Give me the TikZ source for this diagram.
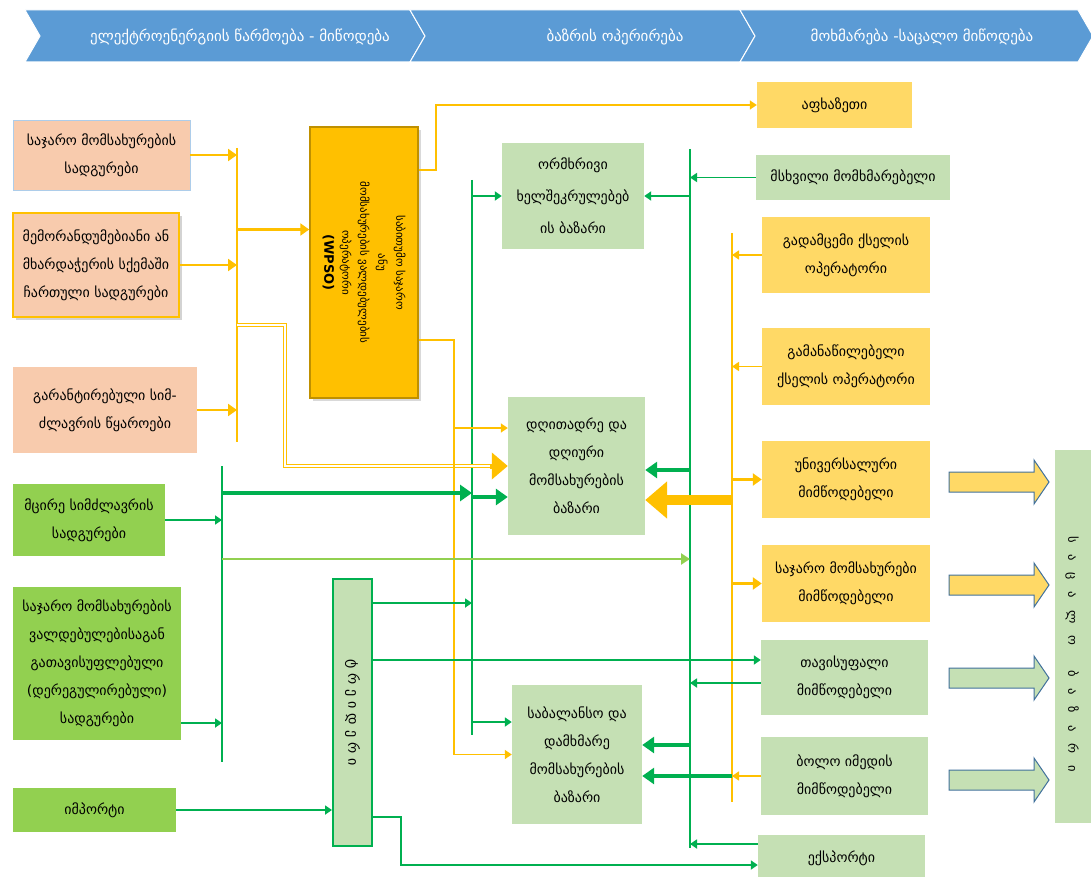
\documentclass[tikz,border=0pt]{standalone}
\usepackage{fontspec}
\setmainfont{DejaVu Sans}
\usetikzlibrary{arrows.meta,shadows}
\definecolor{hdrblue}{HTML}{5B9BD5}
\definecolor{salmonbg}{HTML}{F8CBAD}
\definecolor{limebg}{HTML}{92D050}
\definecolor{mintbg}{HTML}{C5E0B4}
\definecolor{goldbg}{HTML}{FFD966}
\definecolor{wpsobg}{HTML}{FFC000}
\definecolor{wpsoedge}{HTML}{BF9000}
\definecolor{busyellow}{HTML}{FFC000}
\definecolor{busgreen}{HTML}{00B050}
\definecolor{arrowedge}{HTML}{41719C}
\begin{document}
\begin{tikzpicture}[x=1pt,y=-1pt]
\tikzstyle{box} = [align=center, inner sep=2, font=\fontsize{14}{28}\selectfont]
\tikzstyle{salmon} = [box, fill=salmonbg]
\tikzstyle{lime} = [box, fill=limebg]
\tikzstyle{mint} = [box, fill=mintbg]
\tikzstyle{gold} = [box, fill=goldbg]
\tikzstyle{hdr} = [text=white, font=\fontsize{15}{17}\selectfont]
\tikzstyle{ybus} = [draw=busyellow, line width=2.5pt]
\tikzstyle{gbus} = [draw=busgreen, line width=2.5pt]
\tikzstyle{yarr} = [draw=busyellow, line width=2.5pt, -{Triangle[length=9pt,width=12pt]}]
\tikzstyle{ythin} = [draw=busyellow, line width=1.6pt, -{Triangle[length=7pt,width=9pt]}]
\tikzstyle{ydouble} = [draw=busyellow, line width=1.6pt, double=white, double distance=1.6pt]
\tikzstyle{ybig} = [draw=busyellow, line width=5pt, -{Triangle[length=16pt,width=26pt]}]
\tikzstyle{yhuge} = [draw=busyellow, line width=10pt, -{Triangle[length=22pt,width=36pt]}]
\tikzstyle{garr} = [draw=busgreen, line width=1.8pt, -{Triangle[length=7pt,width=9pt]}]
\tikzstyle{gthick} = [draw=busgreen, line width=4pt, -{Triangle[length=12pt,width=16pt]}]
\tikzstyle{lgarr} = [draw=limebg, line width=2.5pt, -{Triangle[length=9pt,width=11pt]}]
\tikzstyle{blockarrow} = [draw=arrowedge, line width=1pt]
\useasboundingbox (0,0) rectangle (1091,877);

% header
\foreach \xa/\xb/\tip/\nt in {25/410/425/15, 410/740/755/15, 740/1078/1093/15}
  \draw [fill=hdrblue, draw=white, line width=1pt] (\xa,10) -- (\xb,10) -- (\tip,36) -- (\xb,62) -- (\xa,62) -- (\xa+\nt,36) -- cycle;
\node [hdr] (hdgen) at (240,37) {ელექტროენერგიის წარმოება - მიწოდება};
\node [hdr] (hdmkt) at (615,37) {ბაზრის ოპერირება};
\node [hdr] (hdret) at (922,37) {მოხმარება -საცალო მიწოდება};

% generation side
\node [salmon, draw=hdrblue!50, minimum width=177, minimum height=70] (stpub) at (101.5,155) {საჯარო მომსახურების\\სადგურები};
\node [salmon, draw=wpsobg, line width=1.5pt, drop shadow={opacity=0.35}, minimum width=166, minimum height=104] (stmem) at (96,265) {მემორანდუმებიანი ან\\მხარდაჭერის სქემაში\\ჩართული სადგურები};
\node [salmon, minimum width=184, minimum height=86] (stgar) at (105,410) {გარანტირებული სიმ-\\ძლავრის წყაროები};
\node [lime, minimum width=152, minimum height=72] (stsmall) at (89,520) {მცირე სიმძლავრის\\სადგურები};
\node [lime, minimum width=168, minimum height=153] (stdereg) at (97,663.5) {საჯარო მომსახურების\\ვალდებულებისაგან\\გათავისუფლებული\\(დერეგულირებული)\\სადგურები};
\node [lime, minimum width=163, minimum height=44] (import) at (94.5,810) {იმპორტი};

% market operation
\node [box, fill=wpsobg, draw=wpsoedge, line width=1.5pt, drop shadow={opacity=0.3}, minimum width=108, minimum height=271] (wpso) at (364,262.5) {};
\node [align=center, rotate=-90, font=\fontsize{11}{18}\selectfont] (wpsotext) at (wpso.center) {საბითუმო საჯარო\\ანუ\\მომსახურების ვალდებულების\\ოპერატორი\\{\fontsize{13}{18}\selectfont\textbf{(WPSO)}}};
\node [mint, minimum width=142, minimum height=106, font=\fontsize{14}{32}\selectfont] (bilat) at (573,196) {ორმხრივი\\ხელშეკრულებებ\\ის ბაზარი};
\node [mint, minimum width=137, minimum height=138] (dayahead) at (576.5,466) {დღითადრე და\\დღიური\\მომსახურების\\ბაზარი};
\node [mint, minimum width=130, minimum height=139] (balanc) at (577,754.5) {საბალანსო და\\დამხმარე\\მომსახურების\\ბაზარი};
\node [box, fill=mintbg, draw=busgreen, line width=2pt, minimum width=39, minimum height=267] (trader) at (352.5,712.5) {};
\node [rotate=-90, font=\fontsize{14}{16}\selectfont] (tradertext) at (trader.center) {ტ\hspace{5pt}რ\hspace{5pt}ე\hspace{5pt}ი\hspace{5pt}დ\hspace{5pt}ე\hspace{5pt}რ\hspace{5pt}ი};

% consumption side
\node [gold, minimum width=155, minimum height=46] (abkh) at (834.5,105) {აფხაზეთი};
\node [mint, minimum width=194, minimum height=45] (bigcons) at (853,177.5) {მსხვილი მომხმარებელი};
\node [gold, minimum width=168, minimum height=76] (tso) at (846,255) {გადამცემი ქსელის\\ოპერატორი};
\node [gold, minimum width=168, minimum height=77] (dso) at (846,366.5) {გამანაწილებელი\\ქსელის ოპერატორი};
\node [gold, minimum width=168, minimum height=77] (univ) at (846,479.5) {უნივერსალური\\მიმწოდებელი};
\node [gold, minimum width=168, minimum height=77] (pubsup) at (846,583.5) {საჯარო მომსახურები\\მიმწოდებელი};
\node [mint, minimum width=167, minimum height=75] (freesup) at (844.5,677.5) {თავისუფალი\\მიმწოდებელი};
\node [mint, minimum width=167, minimum height=78] (lastres) at (844.5,776) {ბოლო იმედის\\მიმწოდებელი};
\node [mint, minimum width=167, minimum height=46] (export) at (841.5,858) {ექსპორტი};
\node [mint, minimum width=45, minimum height=373] (retail) at (1077.5,636.5) {};
\node [rotate=-90, font=\fontsize{12.5}{14}\selectfont] (retailtext) at (1072,654) {ს~~~ა~~~ც~~~ა~~~ლ~~~ო\quad\quad ბ~~~ა~~~ზ~~~ა~~~რ~~~ი};
\foreach \ya/\col in {482/goldbg, 585/goldbg, 678/mintbg, 780/mintbg}
  \draw [blockarrow, fill=\col] (949,\ya-10) -- (1034,\ya-10) -- (1034,\ya-22) -- (1049,\ya) -- (1034,\ya+22) -- (1034,\ya+10) -- (949,\ya+10) -- cycle;

% buses
\coordinate (ytop) at (237,148);
\coordinate (ybot) at (237,442);
\coordinate (gltop) at (222,466);
\coordinate (glbot) at (222,762);
\coordinate (gmtop) at (472,180);
\coordinate (gmbot) at (472,735);
\coordinate (grtop) at (690,149);
\coordinate (grbot) at (690,848);
\coordinate (yrtop) at (732,233);
\coordinate (yrbot) at (732,802);
\coordinate (dbl) at (285,325);
\coordinate (ymid) at (453,428);
\coordinate (gl1) at (222,493);
\coordinate (gl2) at (222,559);
\draw [ybus] (ytop) -- (ybot);
\draw [gbus] (gltop) -- (glbot);
\draw [gbus] (gmtop) -- (gmbot);
\draw [gbus] (grtop) -- (grbot);
\draw [ybus] (yrtop) -- (yrbot);

% yellow flows
\draw [yarr] (stpub) -- (stpub -| ytop);
\draw [yarr] (stmem) -- (stmem -| ytop);
\draw [yarr] (stgar) -- (stgar -| ytop);
\draw [yarr] ([yshift=33pt]wpso.west -| ytop) -- ([yshift=33pt]wpso.west);
\draw [ydouble] (dbl -| ytop) -- (dbl) |- ([xshift=-16pt]dayahead.west);
\draw [ybig] ([xshift=-18pt]dayahead.west) -- (dayahead.west);
\draw [ythin] ([yshift=92.5pt]wpso.east) -- ++(17,0) |- (abkh);
\draw [ythin] ([yshift=-77.5pt]wpso.east) -- ++(35,0) |- (balanc.west);
\draw [ythin] (ymid) -- (ymid -| dayahead.west);
\draw [ythin] (tso) -- (tso -| yrtop);
\draw [ythin] (dso) -- (dso -| yrtop);
\draw [yarr] (univ -| yrtop) -- (univ);
\draw [yarr] (pubsup -| yrtop) -- (pubsup);
\draw [ythin] (lastres) -- (lastres -| yrtop);
\draw [yhuge] ([yshift=-34pt]dayahead.east -| yrtop) -- ([yshift=-34pt]dayahead.east);

% green flows
\draw [garr] (stsmall) -- (stsmall -| gltop);
\draw [garr] ([yshift=-59.5pt]stdereg.east) -- ([yshift=-59.5pt]stdereg.east -| gltop);
\draw [gthick] (gl1) -- (gl1 -| gmtop);
\draw [lgarr] (gl2) -- (gl2 -| grtop);
\draw [garr] (bilat -| gmtop) -- (bilat);
\draw [gthick] ([yshift=-31pt]dayahead.west -| gmtop) -- ([yshift=-31pt]dayahead.west);
\draw [garr] ([yshift=32.5pt]balanc.west -| gmtop) -- ([yshift=32.5pt]balanc.west);
\draw [garr] (bigcons) -- (bigcons -| grtop);
\draw [garr] (bilat -| grtop) -- (bilat);
\draw [gthick] ([yshift=-4pt]dayahead.east -| grtop) -- ([yshift=-4pt]dayahead.east);
\draw [garr] ([yshift=-5.5pt]freesup.west) -- ([yshift=-5.5pt]freesup.west -| grtop);
\draw [gthick] ([yshift=9.5pt]balanc.east -| grtop) -- ([yshift=9.5pt]balanc.east);
\draw [gthick] (lastres -| yrtop) -- (balanc.east |- lastres);
\draw [garr] ([yshift=14pt]export.west) -- ([yshift=14pt]export.west -| grtop);
\draw [garr] (import) -- (import -| trader.west);
\draw [garr] ([yshift=109.5pt]trader.east) -- ([yshift=109.5pt]trader.east -| gmtop);
\draw [garr] ([yshift=52.5pt]trader.east) -- ([yshift=52.5pt]trader.east -| freesup.west);
\draw [garr] ([yshift=-104.5pt]trader.east) -- ++(28,0) |- ([yshift=-7pt]export.west);
\end{tikzpicture}
\end{document}
